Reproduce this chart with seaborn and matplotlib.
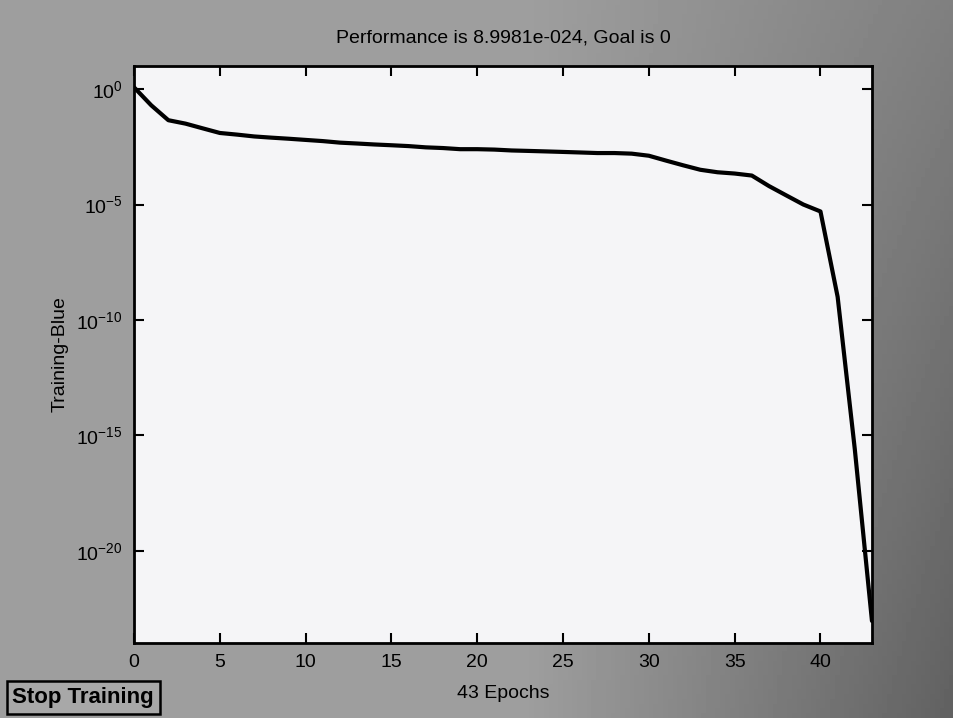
import numpy as np
import pandas as pd
import matplotlib
matplotlib.use("Agg")
import matplotlib.pyplot as plt
import seaborn as sns

epochs = list(range(44))
performance = [1.2, 0.2, 0.045, 0.032, 0.02, 0.0126, 0.0107, 0.0089, 0.0079, 0.0071,
               0.0063, 0.0056, 0.0048, 0.0044, 0.004, 0.0037, 0.0034, 0.003, 0.0028, 0.0025,
               0.0025, 0.0024, 0.0022, 0.0021, 0.002, 0.0019, 0.0018, 0.0017, 0.0017, 0.0016,
               0.0013, 0.0008, 0.0005, 0.00032, 0.00025, 0.00022, 0.00018, 6.3e-5, 2.5e-5, 1e-5,
               5e-6, 1e-9, 2.5e-16, 8.9981e-24]
x_ticks = [0, 5, 10, 15, 20, 25, 30, 35, 40]
y_ticks = [1e0, 1e-5, 1e-10, 1e-15, 1e-20]
y_tick_labels = [r"$10^{0}$", r"$10^{-5}$", r"$10^{-10}$", r"$10^{-15}$", r"$10^{-20}$"]

df = pd.DataFrame({"epoch": epochs, "perf": performance})

sns.set_style("ticks")
plt.rcParams["font.family"] = ["Liberation Sans", "DejaVu Sans"]
plt.rcParams["mathtext.fontset"] = "custom"
plt.rcParams["mathtext.rm"] = "Liberation Sans"
plt.rcParams["mathtext.it"] = "Liberation Sans"
plt.rcParams["text.color"] = "black"
plt.rcParams["axes.labelcolor"] = "black"
plt.rcParams["xtick.color"] = "black"
plt.rcParams["ytick.color"] = "black"

fig = plt.figure(figsize=(9.54, 7.18), dpi=100)
fig.patch.set_facecolor("#8c8c8c")

# background gradient (scan-like shading)
bg = fig.add_axes([0, 0, 1, 1], zorder=-10)
gx = np.linspace(0, 1, 200)
gy = np.linspace(0, 1, 150)
GX, GY = np.meshgrid(gx, gy)
shade = 0.62 - 0.24 * np.clip((GX - 0.55) / 0.45, 0, 1) * (0.5 + 0.5 * GY)
bg.imshow(shade, cmap="gray", vmin=0, vmax=1, aspect="auto", extent=[0, 1, 0, 1], origin="upper")
bg.axis("off")

ax = fig.add_axes([0.1405, 0.1045, 0.7735, 0.8035])
ax.set_facecolor("#f5f5f7")
sns.lineplot(data=df, x="epoch", y="perf", ax=ax, color="black", linewidth=3)
ax.set_yscale("log")
ax.set_xlim(0, 43)
ax.set_ylim(1e-24, 10)
ax.set_xticks(x_ticks)
ax.set_xticklabels([str(t) for t in x_ticks], fontsize=14)
ax.set_yticks(y_ticks)
ax.set_yticklabels(y_tick_labels, fontsize=14)
ax.yaxis.set_minor_locator(matplotlib.ticker.NullLocator())
ax.tick_params(direction="in", top=True, right=True, length=7, width=1.5, pad=8)
for s in ax.spines.values():
    s.set_linewidth(2)
    s.set_color("black")
ax.set_xlabel("43 Epochs", fontsize=14, labelpad=10)
ax.set_ylabel("Training-Blue", fontsize=14, labelpad=6)
ax.set_title("Performance is 8.9981e-024, Goal is 0", fontsize=14, pad=17)

fig.text(0.013, 0.014, "Stop Training", fontsize=16, fontweight="bold",
         ha="left", va="bottom",
         bbox=dict(boxstyle="square,pad=0.25", facecolor="#a8a8a8", edgecolor="black", linewidth=1.8))

fig.savefig("out.png", dpi=100, facecolor=fig.get_facecolor())
